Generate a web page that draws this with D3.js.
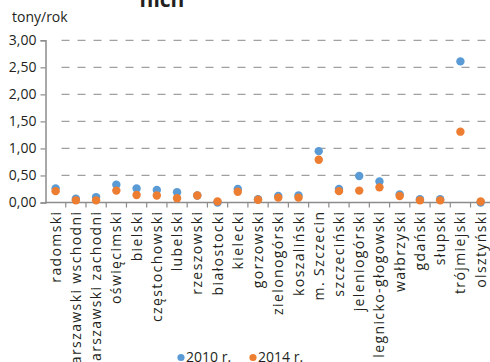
<!DOCTYPE html>
<html><head><meta charset="utf-8">
<script src="https://cdn.jsdelivr.net/npm/d3@7"></script>
<style>body{margin:0;background:#fff;overflow:hidden}svg{display:block}text{font-family:"Open Sans","Noto Sans",sans-serif;fill:#231f20}</style>
</head><body>
<script>
const categories = ["radomski","warszawski wschodni","warszawski zachodni","oświęcimski","bielski","częstochowski","lubelski","rzeszowski","białostocki","kielecki","gorzowski","zielonogórski","koszaliński","m. Szczecin","szczeciński","jeleniogórski","legnicko-głogowski","wałbrzyski","gdański","słupski","trójmiejski","olsztyński"];
const values2010 = [0.26,0.07,0.10,0.33,0.26,0.23,0.19,0.13,0.00,0.25,0.06,0.12,0.13,0.95,0.25,0.49,0.39,0.15,0.06,0.06,2.61,0.00];
const values2014 = [0.21,0.04,0.04,0.22,0.14,0.13,0.08,0.13,0.02,0.20,0.05,0.09,0.09,0.79,0.21,0.22,0.28,0.12,0.04,0.04,1.31,0.02];
const yTicks = [0,0.5,1,1.5,2,2.5,3];
const seriesNames = ["2010 r.","2014 r."];
const colors = ["#5b9bd5","#ed7d31"];

(function(){
const W = 490, H = 362;
const svg = d3.select("body").append("svg").attr("width", W).attr("height", H);
const mLeft = 45.5, mTop = 40.3, mBottom = 202.5;
const n = categories.length;
const step = 20.24;
const x = d3.scaleBand().domain(categories).range([mLeft, mLeft + step * n]).padding(0);
const y = d3.scaleLinear().domain([0, 3]).range([mBottom, mTop]);

svg.append("text").attr("x", 162).attr("y", 7).attr("text-anchor", "middle")
  .style("font-size", "21px").style("font-weight", "bold").text("nich");
svg.append("text").attr("x", 12).attr("y", 22).style("font-size", "14px").text("tony/rok");

svg.append("g").selectAll("line").data(yTicks.filter(d => d > 0)).join("line")
  .attr("x1", mLeft + 16).attr("x2", W).attr("y1", d => y(d)).attr("y2", d => y(d))
  .attr("stroke", "#a0a0a0").attr("stroke-width", 1.3).attr("stroke-dasharray", "8,8");

const yAxis = d3.axisLeft(y).tickValues(yTicks).tickSize(5).tickPadding(4)
  .tickFormat(d => d3.format(".2f")(d).replace(".", ","));
const gy = svg.append("g").attr("transform", `translate(${mLeft},0)`).call(yAxis);
gy.select(".domain").attr("stroke", "#8c8c8c").attr("stroke-width", 1.5);
gy.selectAll(".tick line").attr("stroke", "#8c8c8c").attr("stroke-width", 1.2);
gy.selectAll(".tick text").style("font-size", "14px").attr("fill", "#231f20");

const gx = svg.append("g").attr("transform", `translate(0,${mBottom})`);
gx.append("line").attr("x1", mLeft).attr("x2", W).attr("stroke", "#8c8c8c").attr("stroke-width", 1.5);
gx.selectAll("line.t").data(categories).join("line").attr("class","t")
  .attr("x1", d => x(d) + x.bandwidth()).attr("x2", d => x(d) + x.bandwidth())
  .attr("y1", 0).attr("y2", 5).attr("stroke", "#8c8c8c").attr("stroke-width", 1.2);
gx.selectAll("text").data(categories).join("text")
  .attr("transform", d => `translate(${x(d) + x.bandwidth() / 2 + 5},8) rotate(-90)`)
  .attr("text-anchor", "end").style("font-size", "14px").style("letter-spacing", "1.4px").text(d => d);

[values2010, values2014].forEach((vals, si) => {
  svg.append("g").selectAll("circle").data(vals).join("circle")
    .attr("cx", (d, i) => x(categories[i]) + x.bandwidth() / 2)
    .attr("cy", d => y(d)).attr("r", 4.2).attr("fill", colors[si]);
});

const leg = svg.append("g");
seriesNames.forEach((s, i) => {
  const lx = 181 + i * 72;
  leg.append("circle").attr("cx", lx).attr("cy", 357.5).attr("r", 3.6).attr("fill", colors[i]);
  leg.append("text").attr("x", lx + 5).attr("y", 362).style("font-size", "14px").text(s);
});
})();
</script>
</body></html>
